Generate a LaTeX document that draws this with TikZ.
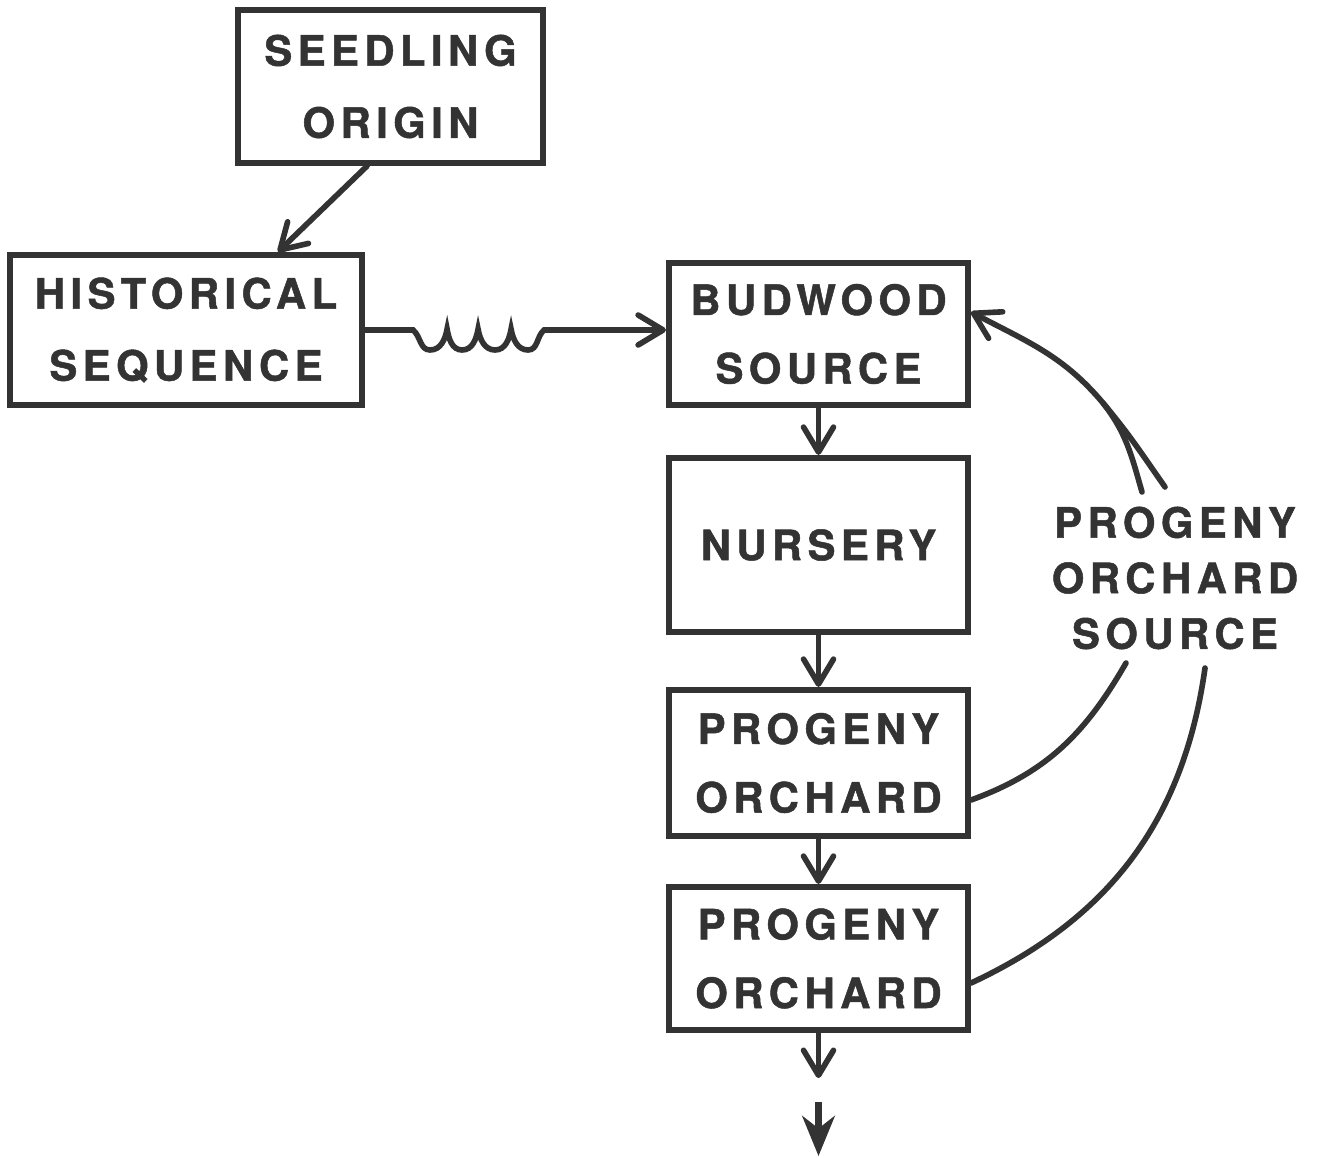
\documentclass[tikz,border=0pt]{standalone}
\usepackage{fontspec}
\newfontfamily\diagfont{TeX Gyre Heros}[LetterSpace=13,FakeBold=1.2]
\usepackage{tikz}
\usetikzlibrary{arrows.meta}
\definecolor{ink}{HTML}{333333}
\newcommand{\boxfont}[1]{\diagfont\bfseries\fontsize{23.8}{#1}\selectfont}

\begin{document}
\begin{tikzpicture}[
  stage/.style={draw=ink, line width=3.5pt, text=ink, align=center, inner sep=0pt, font=\boxfont{39}},
  link/.style={draw=ink, line width=3.2pt, line cap=round, -{Straight Barb[length=5mm,width=6mm,round]}},
  feed/.style={draw=ink, line width=3.2pt, line cap=round}]
  \fill[white] (0,0) rectangle (26.42,-23.16);
  \useasboundingbox (0,0) rectangle (26.42,-23.16);
  % Origin and history
  \node[stage, minimum width=6.1cm, minimum height=3.06cm, font=\boxfont{41}] (seed) at (7.81,-1.73) {SEEDLING\\ORIGIN};
  \node[stage, minimum width=7.04cm, minimum height=3.0cm, font=\boxfont{41}] (hist) at (3.72,-6.6) {HISTORICAL\\SEQUENCE};
  % Main column
  \node[stage, minimum width=5.98cm, minimum height=2.84cm] (bud) at (16.37,-6.68) {BUDWOOD\\SOURCE};
  \node[stage, minimum width=5.98cm, minimum height=3.48cm] (nurs) at (16.37,-10.9) {NURSERY};
  \node[stage, minimum width=5.98cm, minimum height=2.92cm] (po1) at (16.37,-15.26) {PROGENY\\ORCHARD};
  \node[stage, minimum width=5.98cm, minimum height=2.86cm] (po2) at (16.37,-19.17) {PROGENY\\ORCHARD};
  % Side label
  \node[text=ink, align=center, inner sep=0pt, font=\boxfont{31.6}] (src) at (23.5,-11.56) {PROGENY\\ORCHARD\\SOURCE};
  % Free ends
  \coordinate (tipA) at ([yshift=0.44cm]bud.east);
  \coordinate (merge) at (22.06,-8.06);
  \coordinate (srcA) at (22.84,-9.84); \coordinate (srcB) at (23.3,-9.74);
  \coordinate (srcC) at (22.52,-13.26); \coordinate (srcD) at (24.1,-13.36);
  \coordinate (out1) at ([yshift=-0.9cm]po2.south);
  \coordinate (out2a) at (16.37,-22.04); \coordinate (out2b) at (16.37,-23.12);
  % Connectors
  \draw[link] ([xshift=-0.47cm]seed.south) -- ([xshift=1.84cm]hist.north);
  \draw[link] (hist.east) -- ++(0.96,0)
    to[out=-40,in=180] ++(0.34,-0.4) to[out=0,in=-100] ++(0.34,0.42)
    to[out=-80,in=180] ++(0.3,-0.42) to[out=0,in=-100] ++(0.32,0.42)
    to[out=-80,in=180] ++(0.34,-0.42) to[out=0,in=-100] ++(0.32,0.42)
    to[out=-80,in=180] ++(0.34,-0.42) to[out=0,in=220] ++(0.32,0.4)
    -- (bud.west |- hist.east);
  \draw[link] (bud) -- (nurs); \draw[link] (nurs) -- (po1);
  \draw[link] (po1) -- (po2); \draw[link] (po2.south) -- (out1);
  \draw[draw=ink, line width=3.6pt, -{Stealth[length=8mm,width=6.5mm,inset=2.5mm]}] (out2a) -- (out2b);
  % Feedback to budwood
  \draw[link] (srcB) to[out=125,in=-50] (merge) to[out=130,in=-28] (tipA);
  \draw[feed] (srcA) to[out=106,in=-52] (merge);
  \draw[feed] ([yshift=-0.74cm]po1.east) to[out=20,in=240] (srcC);
  \draw[feed] ([yshift=-0.49cm]po2.east) to[out=25,in=262] (srcD);
\end{tikzpicture}
\end{document}
